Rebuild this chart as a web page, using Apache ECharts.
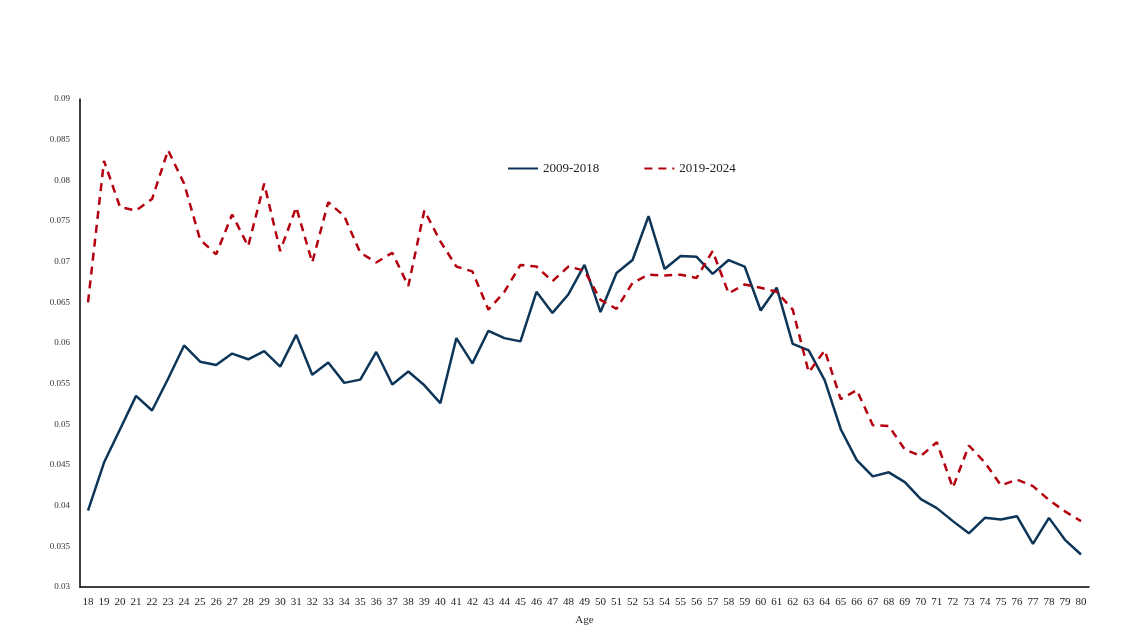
<!DOCTYPE html>
<html>
<head>
<meta charset="utf-8">
<script src="https://cdn.jsdelivr.net/npm/echarts@6/dist/echarts.min.js"></script>
<style>
html,body{margin:0;padding:0;background:#fff;}
#chart{width:1136px;height:639px;}
</style>
</head>
<body>
<div id="chart"></div>
<script>
const ages = [];
for (let a = 18; a <= 80; a++) ages.push(String(a));

const series2009_2018 = [
  0.0394, 0.0453, 0.0494, 0.0535, 0.0517, 0.0556, 0.0597, 0.0577, 0.0573, 0.0587,
  0.0580, 0.0590, 0.0571, 0.0610, 0.0561, 0.0576, 0.0551, 0.0555, 0.0589, 0.0549,
  0.0565, 0.0548, 0.0526, 0.0606, 0.0575, 0.0615, 0.0606, 0.0602, 0.0663, 0.0637,
  0.0660, 0.0696, 0.0638, 0.0686, 0.0702, 0.0756, 0.0691, 0.0707, 0.0706, 0.0685,
  0.0702, 0.0694, 0.0640, 0.0668, 0.0599, 0.0591, 0.0554, 0.0494, 0.0456, 0.0436,
  0.0441, 0.0429, 0.0408, 0.0397, 0.0381, 0.0366, 0.0385, 0.0383, 0.0387, 0.0353,
  0.0385, 0.0358, 0.0340
];

const series2019_2024 = [
  0.0650, 0.0824, 0.0767, 0.0763, 0.0777, 0.0837, 0.0796, 0.0727, 0.0709, 0.0758,
  0.0719, 0.0796, 0.0713, 0.0767, 0.0699, 0.0773, 0.0756, 0.0711, 0.0699, 0.0711,
  0.0670, 0.0763, 0.0725, 0.0694, 0.0688, 0.0641, 0.0663, 0.0696, 0.0694, 0.0676,
  0.0694, 0.0689, 0.0653, 0.0642, 0.0674, 0.0684, 0.0683, 0.0684, 0.0680, 0.0713,
  0.0661, 0.0672, 0.0668, 0.0663, 0.0641, 0.0564, 0.0591, 0.0531, 0.0542, 0.0499,
  0.0498, 0.0469, 0.0461, 0.0478, 0.0422, 0.0474, 0.0453, 0.0425, 0.0432, 0.0424,
  0.0407, 0.0393, 0.0381
];

const seriesNames = ['2009-2018', '2019-2024'];

const chart = echarts.init(document.getElementById('chart'));
const font = 'Liberation Serif';
chart.setOption({
  backgroundColor: '#ffffff',
  animation: false,
  textStyle: { fontFamily: font },
  legend: {
    left: 502,
    top: 157,
    itemWidth: 30,
    itemHeight: 10,
    itemGap: 44,
    itemStyle: { opacity: 0 },
    textStyle: { fontFamily: font, fontSize: 13, color: '#222' },
    data: seriesNames
  },
  grid: { left: 80, right: 47, top: 99, bottom: 52 },
  xAxis: {
    type: 'category',
    data: ages,
    boundaryGap: true,
    name: 'Age',
    nameLocation: 'middle',
    nameGap: 28,
    nameTextStyle: { fontFamily: font, fontSize: 11, color: '#333' },
    axisLine: { lineStyle: { color: '#000', width: 1.5 } },
    axisTick: { inside: true, length: 3, lineStyle: { color: '#000' } },
    axisLabel: { interval: 0, fontFamily: font, fontSize: 11, color: '#222', margin: 10 },
    splitLine: { show: false }
  },
  yAxis: {
    type: 'value',
    min: 0.03,
    max: 0.09,
    interval: 0.005,
    axisLine: { show: true, lineStyle: { color: '#000', width: 1.5 } },
    axisTick: { show: false },
    axisLabel: {
      fontFamily: font, fontSize: 9, color: '#333', margin: 10,
      formatter: v => String(Math.round(v * 1000) / 1000)
    },
    splitLine: { show: false }
  },
  series: [
    {
      name: seriesNames[0],
      type: 'line',
      data: series2009_2018,
      showSymbol: false,
      symbol: 'none',
      lineStyle: { color: '#0c3558', width: 2.5 },
      itemStyle: { color: '#0c3558' }
    },
    {
      name: seriesNames[1],
      type: 'line',
      data: series2019_2024,
      showSymbol: false,
      symbol: 'none',
      lineStyle: { color: '#b4000e', width: 2.5, type: [8, 6] },
      itemStyle: { color: '#b4000e' }
    }
  ]
});
</script>
</body>
</html>
